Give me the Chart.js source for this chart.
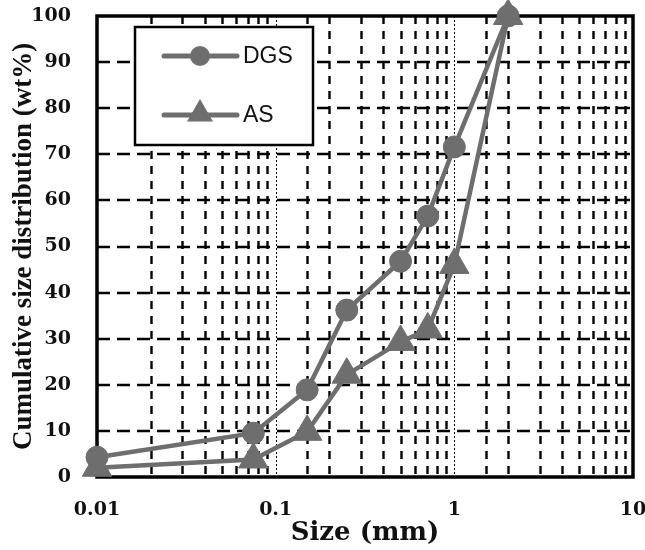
<!DOCTYPE html>
<html>
<head>
<meta charset="utf-8">
<script src="https://cdn.jsdelivr.net/npm/chart.js@4.4.1/dist/chart.umd.min.js"></script>
<style>
  html, body { margin: 0; padding: 0; background: #ffffff; }
  #wrap { width: 645px; height: 550px; position: relative; }
</style>
</head>
<body>
<div id="wrap"><canvas id="c" width="645" height="550"></canvas></div>
<script>
// ---- data ----
const sizesMM = [0.01, 0.075, 0.15, 0.25, 0.5, 0.71, 1, 2];
const dgsValues = [4.3, 9.5, 18.9, 36.2, 46.8, 56.6, 71.6, 100];
const asValues = [2.0, 3.8, 9.8, 22.2, 29.3, 32.0, 46.0, 100];
const seriesNames = ['DGS', 'AS'];
const xTickLabels = ['0.01', '0.1', '1', '10'];
const yTickValues = [0, 10, 20, 30, 40, 50, 60, 70, 80, 90, 100];
const xTitle = 'Size (mm)';
const yTitle = 'Cumulative size distribution (wt%)';

const lineGray = '#6e6e6e';

function isDecade(v) {
  const l = Math.log10(v);
  return Math.abs(l - Math.round(l)) < 1e-6;
}

const gridPlugin = {
  id: 'customGrid',
  beforeDatasetsDraw(chart) {
    const {ctx, chartArea: a, scales: {x, y}} = chart;
    ctx.save();
    ctx.strokeStyle = '#000';
    // vertical lines
    x.ticks.forEach(t => {
      const px = Math.round(x.getPixelForValue(t.value)) + 0.5;
      if (px <= a.left + 2 || px >= a.right - 2) return;
      ctx.beginPath();
      if (isDecade(t.value)) {
        ctx.lineWidth = 1;
        ctx.setLineDash([2, 2]);
      } else {
        ctx.lineWidth = 2.4;
        ctx.setLineDash([8, 7]);
      }
      ctx.moveTo(px, a.top);
      ctx.lineTo(px, a.bottom);
      ctx.stroke();
    });
    // horizontal lines
    y.ticks.forEach(t => {
      const py = Math.round(y.getPixelForValue(t.value));
      if (py <= a.top + 2 || py >= a.bottom - 2) return;
      ctx.beginPath();
      ctx.lineWidth = 2.4;
      ctx.setLineDash([13, 7]);
      ctx.moveTo(a.left, py);
      ctx.lineTo(a.right, py);
      ctx.stroke();
    });
    ctx.setLineDash([]);
    ctx.lineWidth = 3.5;
    ctx.strokeRect(a.left, a.top, a.right - a.left, a.bottom - a.top);
    ctx.restore();
  }
};

const legendPlugin = {
  id: 'customLegend',
  afterDatasetsDraw(chart) {
    const {ctx} = chart;
    const box = {x: 135, y: 27, w: 178, h: 118};
    ctx.save();
    ctx.fillStyle = '#fff';
    ctx.fillRect(box.x, box.y, box.w, box.h);
    ctx.strokeStyle = '#000';
    ctx.lineWidth = 2.5;
    ctx.strokeRect(box.x, box.y, box.w, box.h);
    const rows = [56, 115];
    chart.data.datasets.forEach((ds, i) => {
      const yy = rows[i];
      ctx.strokeStyle = ds.borderColor;
      ctx.lineWidth = 5;
      ctx.lineCap = 'round';
      ctx.beginPath();
      ctx.moveTo(164, yy);
      ctx.lineTo(237, yy);
      ctx.stroke();
      Chart.helpers.drawPoint(ctx, {
        pointStyle: ds.pointStyle,
        radius: ds.pointStyle === 'circle' ? 7.5 : 10,
        rotation: 0,
        borderWidth: 1
      }, 200, ds.pointStyle === 'circle' ? yy : yy - 1);
      ctx.fillStyle = ds.borderColor;
      ctx.fill();
      ctx.fillStyle = '#111';
      ctx.font = '23px "Liberation Sans", Arial, sans-serif';
      ctx.textBaseline = 'middle';
      ctx.textAlign = 'left';
      ctx.fillText(ds.label, 243, yy + 1);
    });
    ctx.restore();
  }
};

const ctx = document.getElementById('c').getContext('2d');
new Chart(ctx, {
  type: 'line',
  data: {
    datasets: [
      {
        label: seriesNames[0],
        data: sizesMM.map((s, i) => ({x: s, y: dgsValues[i]})),
        borderColor: lineGray,
        backgroundColor: lineGray,
        borderWidth: 4.5,
        pointStyle: 'circle',
        pointRadius: 11,
        pointBorderWidth: 1,
        pointBorderColor: lineGray,
        pointBackgroundColor: lineGray,
        tension: 0,
        clip: false
      },
      {
        label: seriesNames[1],
        data: sizesMM.map((s, i) => ({x: s, y: asValues[i]})),
        borderColor: lineGray,
        backgroundColor: lineGray,
        borderWidth: 4.5,
        pointStyle: 'triangle',
        pointRadius: 17,
        pointBorderWidth: 1,
        pointBorderColor: lineGray,
        pointBackgroundColor: lineGray,
        tension: 0,
        clip: false
      }
    ]
  },
  options: {
    responsive: false,
    animation: false,
    devicePixelRatio: 1,
    layout: { autoPadding: false, padding: { top: 16, right: 12, left: 0, bottom: 0 } },
    plugins: {
      legend: { display: false },
      tooltip: { enabled: false }
    },
    scales: {
      x: {
        type: 'logarithmic',
        min: 0.01,
        max: 10,
        grid: { display: false, drawTicks: false },
        border: { display: false },
        ticks: {
          autoSkip: false,
          maxRotation: 0,
          padding: 22,
          color: '#111',
          font: { family: '"DejaVu Serif", serif', weight: 'bold', size: 19 },
          callback: (v) => {
            if (!isDecade(v)) return '';
            const idx = Math.round(Math.log10(v)) + 2;
            return xTickLabels[idx] ?? '';
          }
        },
        title: {
          display: true,
          text: xTitle,
          color: '#111',
          font: { family: '"DejaVu Serif", serif', weight: 'bold', size: 26 },
          padding: { top: 0, bottom: 1 }
        },
        afterFit: (s) => { s.height = 73; s.paddingLeft = 0; s.paddingRight = 0; }
      },
      y: {
        min: 0,
        max: 100,
        afterBuildTicks: (s) => { s.ticks = yTickValues.map(v => ({value: v})); },
        grid: { display: false, drawTicks: false },
        border: { display: false },
        ticks: {
          padding: 26,
          color: '#111',
          font: { family: '"DejaVu Serif", serif', weight: 'bold', size: 19 }
        },
        title: {
          display: true,
          text: yTitle,
          color: '#111',
          font: { family: '"Liberation Serif", "Times New Roman", serif', weight: 'bold', size: 27 },
          padding: { top: 8, bottom: 0 }
        },
        afterFit: (s) => { s.width = 97; s.paddingTop = 0; s.paddingBottom = 0; }
      }
    }
  },
  plugins: [gridPlugin, legendPlugin]
});
</script>
</body>
</html>
